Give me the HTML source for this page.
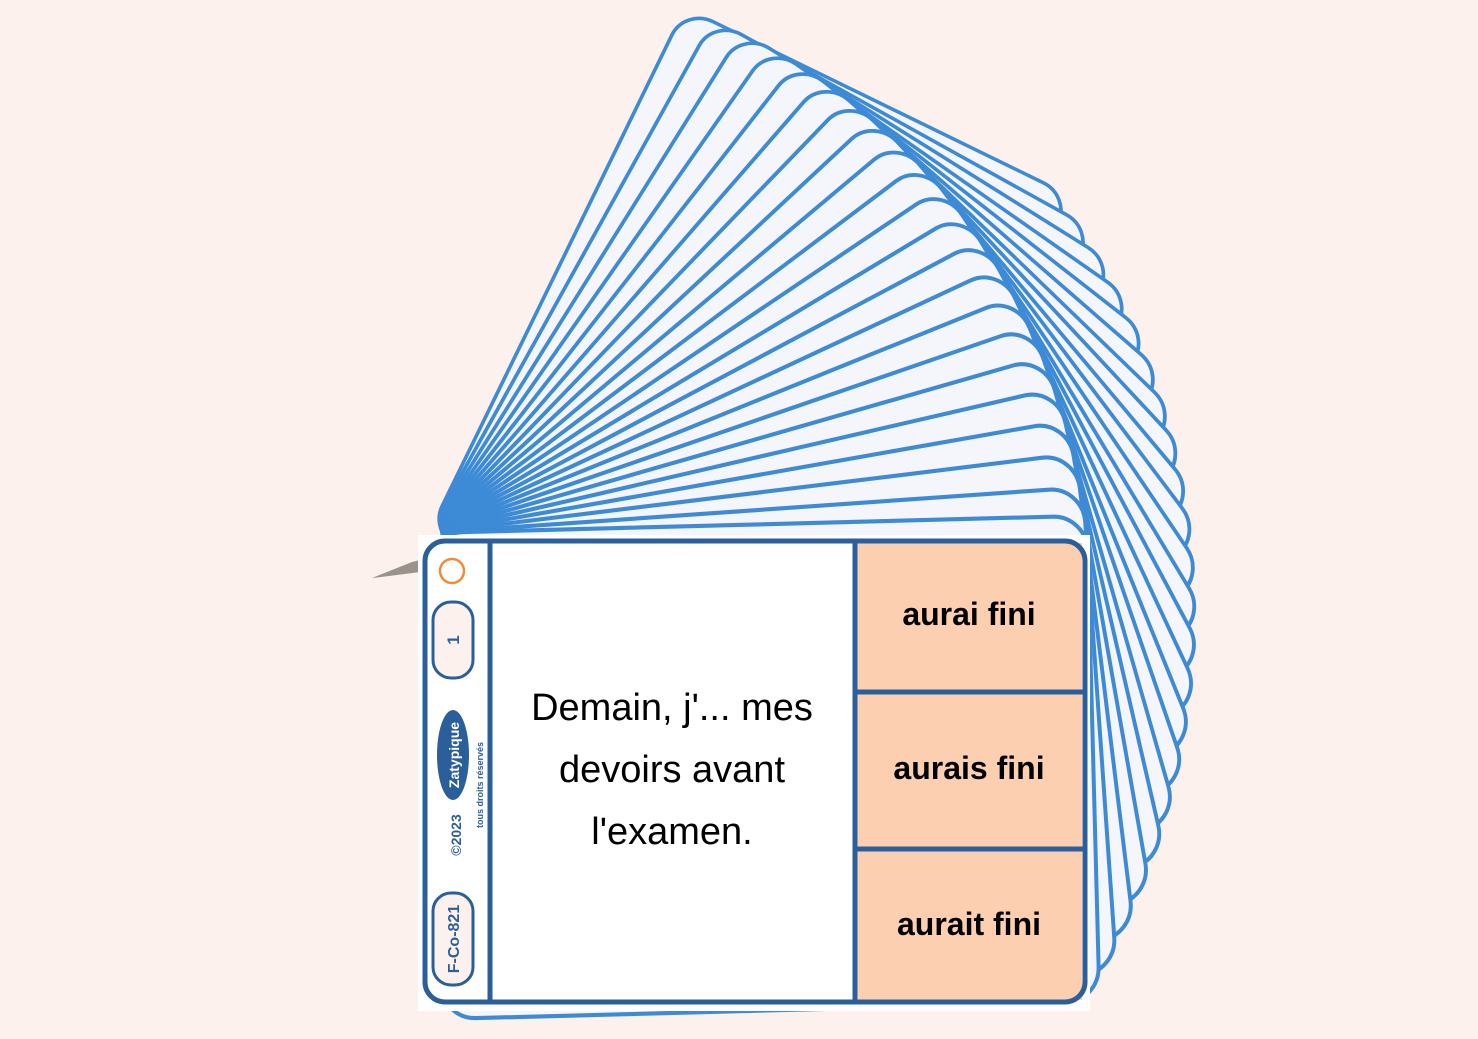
<!DOCTYPE html>
<html><head><meta charset="utf-8"><style>
html,body{margin:0;padding:0;background:#fcf1ec;}
svg{display:block;}
</style></head><body>
<svg width="1478" height="1039" viewBox="0 0 1478 1039" xmlns="http://www.w3.org/2000/svg">
<rect width="1478" height="1039" fill="#fcf1ec"/>
<g transform="translate(429,533)" fill="#f5f5fc" stroke="#3d8ad6" stroke-width="4">
<rect width="660" height="472" rx="34" transform="rotate(-64) scale(0.885,0.910)"/>
<rect width="660" height="472" rx="34" transform="rotate(-61) scale(0.890,0.921)"/>
<rect width="660" height="472" rx="34" transform="rotate(-58) scale(0.896,0.931)"/>
<rect width="660" height="472" rx="34" transform="rotate(-55) scale(0.901,0.941)"/>
<rect width="660" height="472" rx="34" transform="rotate(-52) scale(0.907,0.951)"/>
<rect width="660" height="472" rx="34" transform="rotate(-49) scale(0.912,0.960)"/>
<rect width="660" height="472" rx="34" transform="rotate(-46) scale(0.917,0.968)"/>
<rect width="660" height="472" rx="34" transform="rotate(-43) scale(0.923,0.976)"/>
<rect width="660" height="472" rx="34" transform="rotate(-40) scale(0.928,0.983)"/>
<rect width="660" height="472" rx="34" transform="rotate(-37) scale(0.934,0.990)"/>
<rect width="660" height="472" rx="34" transform="rotate(-34) scale(0.939,0.996)"/>
<rect width="660" height="472" rx="34" transform="rotate(-31) scale(0.944,1.002)"/>
<rect width="660" height="472" rx="34" transform="rotate(-28) scale(0.950,1.007)"/>
<rect width="660" height="472" rx="34" transform="rotate(-25) scale(0.955,1.012)"/>
<rect width="660" height="472" rx="34" transform="rotate(-22) scale(0.960,1.016)"/>
<rect width="660" height="472" rx="34" transform="rotate(-19) scale(0.966,1.019)"/>
<rect width="660" height="472" rx="34" transform="rotate(-16) scale(0.971,1.022)"/>
<rect width="660" height="472" rx="34" transform="rotate(-13) scale(0.977,1.025)"/>
<rect width="660" height="472" rx="34" transform="rotate(-10) scale(0.982,1.027)"/>
<rect width="660" height="472" rx="34" transform="rotate(-7) scale(0.987,1.029)"/>
<rect width="660" height="472" rx="34" transform="rotate(-4) scale(0.993,1.03)"/>
<rect width="660" height="472" rx="34" transform="rotate(-1.5) scale(0.997,1.03)"/>
</g>
<!-- ring -->
<path d="M372 578 Q392 570 412 562 L420 560 L420 572 Q398 575 372 578 Z" fill="#9a938c"/>
<!-- front card -->
<rect x="418" y="535" width="672" height="476" fill="#ffffff"/>
<rect x="855" y="543" width="227" height="457" fill="#fbcfb0"/>
<rect x="425" y="541" width="660" height="461" rx="20" fill="none" stroke="#2b5f9c" stroke-width="5"/>
<line x1="490" y1="541" x2="490" y2="1002" stroke="#2b5f9c" stroke-width="5"/>
<line x1="855" y1="541" x2="855" y2="1002" stroke="#2b5f9c" stroke-width="5"/>
<line x1="855" y1="692" x2="1083" y2="692" stroke="#2b5f9c" stroke-width="5"/>
<line x1="855" y1="849" x2="1083" y2="849" stroke="#2b5f9c" stroke-width="5"/>
<g font-family="Liberation Sans, sans-serif" fill="#000" text-anchor="middle" font-size="38">
<text x="672" y="720">Demain, j'... mes</text>
<text x="672" y="782">devoirs avant</text>
<text x="672" y="844">l'examen.</text>
</g>
<g font-family="Liberation Sans, sans-serif" font-weight="bold" fill="#000" text-anchor="middle" font-size="32">
<text x="969" y="625">aurai fini</text>
<text x="969" y="779">aurais fini</text>
<text x="969" y="935">aurait fini</text>
</g>
<!-- sidebar -->
<circle cx="452" cy="571" r="12" fill="none" stroke="#f08a3c" stroke-width="2.5"/>
<rect x="433" y="602" width="40" height="76" rx="18" fill="#fcf1ec" stroke="#2b5f9c" stroke-width="3"/>
<text transform="translate(459,640) rotate(-90)" font-family="Liberation Sans, sans-serif" font-weight="bold" font-size="17" fill="#2b5f9c" text-anchor="middle">1</text>
<ellipse cx="453" cy="755" rx="16" ry="45" fill="#2b5f9c"/>
<text transform="translate(459,755) rotate(-90)" font-family="Liberation Sans, sans-serif" font-weight="bold" font-size="14" fill="#fff" text-anchor="middle">Zatypique</text>
<text transform="translate(483,785) rotate(-90)" font-family="Liberation Sans, sans-serif" font-weight="bold" font-size="9" fill="#2b5f9c" text-anchor="middle">tous droits réservés</text>
<text transform="translate(461,835) rotate(-90)" font-family="Liberation Sans, sans-serif" font-weight="bold" font-size="14" fill="#2b5f9c" text-anchor="middle">©2023</text>
<rect x="433" y="893" width="40" height="92" rx="18" fill="#fcf1ec" stroke="#2b5f9c" stroke-width="3"/>
<text transform="translate(459,939) rotate(-90)" font-family="Liberation Sans, sans-serif" font-weight="bold" font-size="16" fill="#2b5f9c" text-anchor="middle">F-Co-821</text>
</svg>
</body></html>
